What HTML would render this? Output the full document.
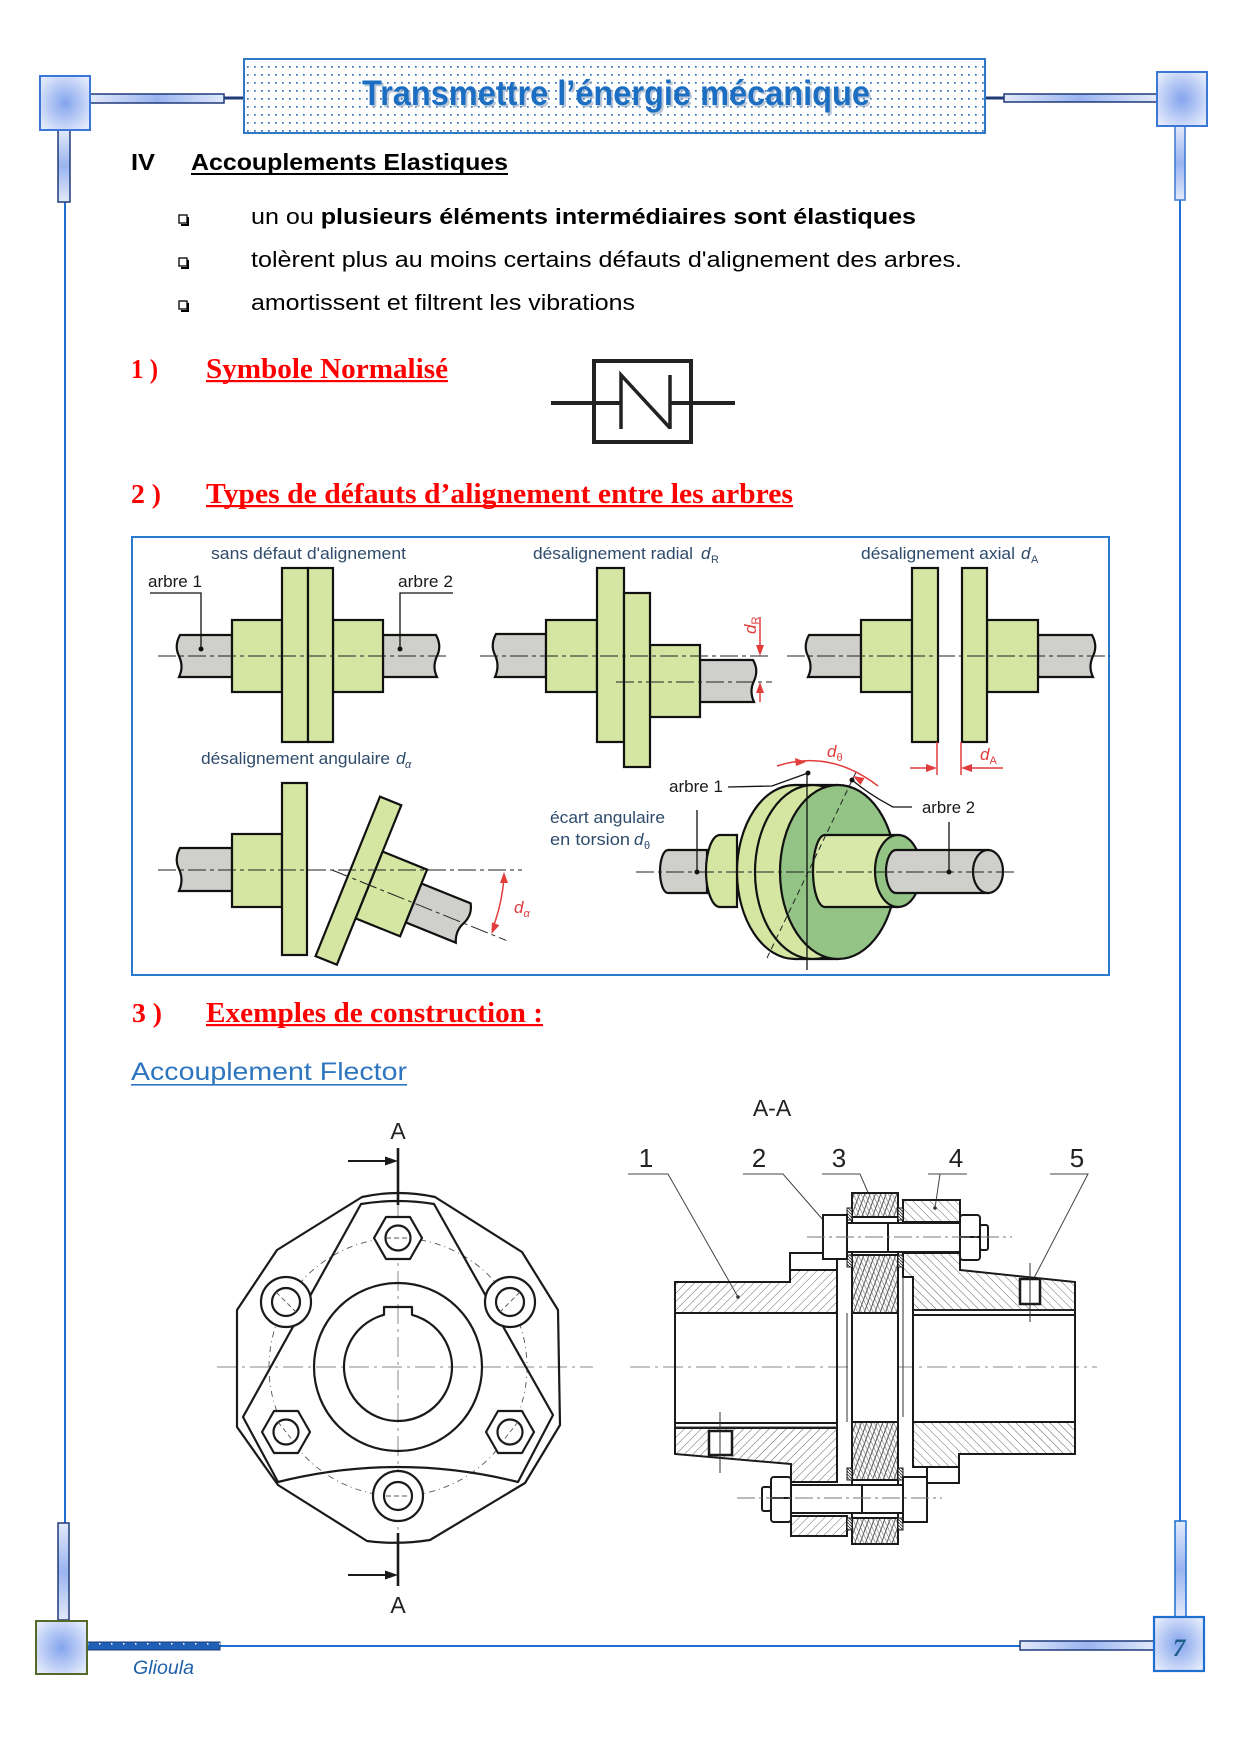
<!DOCTYPE html>
<html><head><meta charset="utf-8"><style>
html,body{margin:0;padding:0;background:#fff;}
svg{display:block;}
</style></head><body>
<svg width="1240" height="1754" viewBox="0 0 1240 1754" xmlns="http://www.w3.org/2000/svg" font-family="'Liberation Sans', sans-serif">
<defs>
<radialGradient id="cg" cx="50%" cy="50%" r="62%"><stop offset="0" stop-color="#84a4ee"/><stop offset="1" stop-color="#e3eafb"/></radialGradient>
<linearGradient id="hb" x1="0" x2="1" y1="0" y2="0"><stop offset="0" stop-color="#e2e9fa"/><stop offset="0.5" stop-color="#9ab4f0"/><stop offset="1" stop-color="#e2e9fa"/></linearGradient>
<linearGradient id="vb" x1="0" x2="0" y1="0" y2="1"><stop offset="0" stop-color="#e2e9fa"/><stop offset="0.5" stop-color="#9ab4f0"/><stop offset="1" stop-color="#e2e9fa"/></linearGradient>
<pattern id="dots" width="7" height="8" patternUnits="userSpaceOnUse"><rect x="2" y="2" width="1.7" height="1.7" fill="#2f6db5"/></pattern>
<pattern id="wdots" width="12" height="8" patternUnits="userSpaceOnUse"><rect x="3" y="3" width="1.5" height="1.5" fill="#fff"/></pattern>
<pattern id="h1" width="6" height="6" patternUnits="userSpaceOnUse" patternTransform="rotate(45)"><line x1="0" y1="0" x2="0" y2="6" stroke="#555" stroke-width="0.9"/></pattern>
<pattern id="h2" width="6" height="6" patternUnits="userSpaceOnUse" patternTransform="rotate(-45)"><line x1="0" y1="0" x2="0" y2="6" stroke="#555" stroke-width="0.9"/></pattern>
<pattern id="hx" width="5" height="5" patternUnits="userSpaceOnUse" patternTransform="rotate(20)"><line x1="1" y1="0" x2="1" y2="5" stroke="#444" stroke-width="0.9"/><line x1="0" y1="0" x2="5" y2="5" stroke="#666" stroke-width="0.6"/></pattern>
<pattern id="hs" width="3" height="3" patternUnits="userSpaceOnUse"><rect width="3" height="3" fill="#fff"/><line x1="0" y1="0" x2="3" y2="3" stroke="#333" stroke-width="0.9"/></pattern>
</defs>

<!-- ============ PAGE FRAME ============ -->
<g stroke="#1f6fd0" stroke-width="2" fill="none">
<line x1="65" y1="202" x2="65" y2="1523"/>
<line x1="1180" y1="200" x2="1180" y2="1521"/>
<line x1="220" y1="1646" x2="1020" y2="1646"/>
</g>
<line x1="224" y1="98" x2="245" y2="98" stroke="#1f3a7a" stroke-width="3"/>
<line x1="985" y1="98" x2="1004" y2="98" stroke="#1f3a7a" stroke-width="3"/>
<!-- top-left -->
<rect x="90" y="94" width="134" height="9" fill="url(#hb)" stroke="#1f3a7a" stroke-width="1.5"/>
<rect x="58" y="130" width="12" height="72" fill="url(#vb)" stroke="#1f3a7a" stroke-width="1.5"/>
<rect x="40" y="76" width="50" height="54" fill="url(#cg)" stroke="#3b77d6" stroke-width="2"/>
<!-- top-right -->
<rect x="1004" y="94" width="153" height="8" fill="url(#hb)" stroke="#1f3a7a" stroke-width="1.5"/>
<rect x="1175" y="126" width="10" height="74" fill="url(#vb)" stroke="#3b77d6" stroke-width="1.5"/>
<rect x="1157" y="72" width="50" height="54" fill="url(#cg)" stroke="#3b77d6" stroke-width="2"/>
<!-- bottom-left -->
<rect x="58" y="1523" width="11" height="97" fill="url(#vb)" stroke="#1f3a7a" stroke-width="1.5"/>
<rect x="87" y="1642" width="133" height="8" fill="#1f5fb5" stroke="#1f3a7a" stroke-width="1"/>
<rect x="87" y="1642" width="133" height="8" fill="url(#wdots)"/>
<rect x="36" y="1621" width="51" height="53" fill="url(#cg)" stroke="#56692b" stroke-width="2"/>
<text x="133" y="1674" font-size="19" font-style="italic" fill="#2060a8" textLength="61" lengthAdjust="spacingAndGlyphs">Glioula</text>
<!-- bottom-right -->
<rect x="1175" y="1521" width="11" height="96" fill="url(#vb)" stroke="#1f6fd0" stroke-width="1.5"/>
<rect x="1020" y="1641" width="134" height="9" fill="url(#hb)" stroke="#1f3a7a" stroke-width="1.5"/>
<rect x="1154" y="1617" width="50" height="54" fill="url(#cg)" stroke="#1f6fd0" stroke-width="2.2"/>
<text x="1179" y="1656" font-size="25" font-weight="bold" font-style="italic" font-family="'Liberation Serif', serif" fill="#1f5f8a" text-anchor="middle">7</text>

<!-- ============ TITLE ============ -->
<rect x="244" y="59" width="741" height="74" fill="#fff"/>
<rect x="244" y="59" width="741" height="74" fill="url(#dots)" stroke="#2f78c5" stroke-width="2"/>
<text x="364" y="107" font-size="35" font-weight="bold" fill="#9fb0c5" opacity="0.7" textLength="508" lengthAdjust="spacingAndGlyphs">Transmettre l’énergie mécanique</text>
<text x="362" y="105" font-size="35" font-weight="bold" fill="#1b6ec2" textLength="508" lengthAdjust="spacingAndGlyphs">Transmettre l’énergie mécanique</text>

<!-- ============ SECTION IV ============ -->
<text x="131" y="170" font-size="23" font-weight="bold" fill="#000" textLength="24" lengthAdjust="spacingAndGlyphs">IV</text>
<text x="191" y="170" font-size="23" font-weight="bold" fill="#000" textLength="317" lengthAdjust="spacingAndGlyphs">Accouplements Elastiques</text>
<rect x="191" y="173" width="317" height="2" fill="#000"/>

<g fill="none" stroke="#000">
<rect x="179" y="215" width="8" height="8" stroke-width="1.3"/><path d="M188,217 V225 H181" stroke-width="2"/>
<rect x="179" y="258" width="8" height="8" stroke-width="1.3"/><path d="M188,260 V268 H181" stroke-width="2"/>
<rect x="179" y="301" width="8" height="8" stroke-width="1.3"/><path d="M188,303 V311 H181" stroke-width="2"/>
</g>
<text x="251" y="224" font-size="22" fill="#000" textLength="665" lengthAdjust="spacingAndGlyphs">un ou <tspan font-weight="bold">plusieurs éléments intermédiaires sont élastiques</tspan></text>
<text x="251" y="267" font-size="22" fill="#000" textLength="711" lengthAdjust="spacingAndGlyphs">tolèrent plus au moins certains défauts d'alignement des arbres.</text>
<text x="251" y="310" font-size="22" fill="#000" textLength="384" lengthAdjust="spacingAndGlyphs">amortissent et filtrent les vibrations</text>

<!-- ============ 1) ============ -->
<g font-family="'Liberation Serif', serif" font-weight="bold" fill="#ff0000">
<text x="131" y="378" font-size="27" textLength="27" lengthAdjust="spacingAndGlyphs">1 )</text>
<text x="206" y="378" font-size="28" textLength="242" lengthAdjust="spacingAndGlyphs">Symbole Normalisé</text>
<rect x="206" y="380" width="242" height="2.2"/>
<text x="131" y="503" font-size="27" textLength="30" lengthAdjust="spacingAndGlyphs">2 )</text>
<text x="206" y="503" font-size="28" textLength="587" lengthAdjust="spacingAndGlyphs">Types de défauts d’alignement entre les arbres</text>
<rect x="206" y="505" width="587" height="2.2"/>
<text x="132" y="1022" font-size="27" textLength="30" lengthAdjust="spacingAndGlyphs">3 )</text>
<text x="206" y="1022" font-size="28" textLength="337" lengthAdjust="spacingAndGlyphs">Exemples de construction :</text>
<rect x="206" y="1024" width="337" height="2.2"/>
</g>

<!-- symbol -->
<g stroke="#222" fill="none">
<rect x="594" y="361" width="97" height="81" stroke-width="4"/>
<path d="M551,403 H621 M670,403 H735" stroke-width="4"/>
<path d="M621,429 V375 L670,428 M670,375 V429" stroke-width="3.5"/>
</g>

<!-- ============ FIGURE BOX ============ -->
<rect x="132" y="537" width="977" height="438" fill="#fff" stroke="#2a7bd0" stroke-width="2"/>

<g stroke="#111" stroke-width="2.2" stroke-linejoin="miter">
<!-- fig1 -->
<path d="M232,635 H180 Q174,646 179,656 Q184,667 179,677 H232 Z" fill="#cfcfcc"/>
<path d="M383,635 H436 Q442,646 437,656 Q432,667 437,677 H383 Z" fill="#cfcfcc"/>
<rect x="232" y="620" width="50" height="72" fill="#d4e6a1"/>
<rect x="333" y="620" width="50" height="72" fill="#d4e6a1"/>
<rect x="282" y="568" width="26" height="174" fill="#d4e6a1"/>
<rect x="308" y="568" width="25" height="174" fill="#d4e6a1"/>
<!-- fig2 -->
<path d="M546,634 H496 Q490,645 495,655 Q500,666 495,677 H546 Z" fill="#cfcfcc"/>
<path d="M700,660 H753 Q759,670 754,681 Q749,691 754,702 H700 Z" fill="#cfcfcc"/>
<rect x="546" y="620" width="51" height="72" fill="#d4e6a1"/>
<rect x="650" y="645" width="50" height="72" fill="#d4e6a1"/>
<rect x="597" y="568" width="27" height="174" fill="#d4e6a1"/>
<rect x="624" y="593" width="26" height="174" fill="#d4e6a1"/>
<!-- fig4 -->
<path d="M861,635 H809 Q803,646 808,656 Q813,667 808,677 H861 Z" fill="#cfcfcc"/>
<path d="M1038,635 H1092 Q1098,646 1093,656 Q1088,667 1093,677 H1038 Z" fill="#cfcfcc"/>
<rect x="861" y="620" width="51" height="72" fill="#d4e6a1"/>
<rect x="987" y="620" width="51" height="72" fill="#d4e6a1"/>
<rect x="912" y="568" width="26" height="174" fill="#d4e6a1"/>
<rect x="962" y="568" width="25" height="174" fill="#d4e6a1"/>
<!-- fig3 -->
<path d="M232,848 H180 Q174,859 179,869 Q184,880 179,891 H232 Z" fill="#cfcfcc"/>
<rect x="232" y="834" width="50" height="73" fill="#d4e6a1"/>
<rect x="282" y="783" width="25" height="172" fill="#d4e6a1"/>
<g transform="rotate(22 332 870)">
<path d="M420,849 H473 Q479,859 474,870 Q469,880 474,891 H420 Z" fill="#cfcfcc"/>
<rect x="372" y="834" width="48" height="72" fill="#d4e6a1"/>
<rect x="349" y="784" width="23" height="172" fill="#d4e6a1"/>
</g>
<!-- fig5 torsion -->
<path d="M707,850 H668 A8,21.5 0 0 0 668,893 H707 Z" fill="#cfcfcc"/>
<path d="M737,835 H720 A14,36 0 0 0 720,907 H737 Z" fill="#d4e6a1"/>
<rect x="795" y="785" width="43" height="174" fill="#d4e6a1" stroke="none"/>
<ellipse cx="795" cy="872" rx="58" ry="87" fill="#d4e6a1"/>
<rect x="795" y="786" width="43" height="172" fill="#d4e6a1" stroke="none"/>
<line x1="795" y1="785" x2="838" y2="785"/>
<line x1="795" y1="959" x2="838" y2="959"/>
<ellipse cx="813" cy="872" rx="58" ry="87" fill="#d4e6a1"/>
<ellipse cx="838" cy="872" rx="58" ry="87" fill="#93c385"/>
<path d="M897,835 H825 A12,36 0 0 0 825,907 H897 Z" fill="#d8e8a8"/>
<ellipse cx="898" cy="871" rx="23" ry="36" fill="#93c385"/>
<path d="M896,850 H988 V893 H896 A10,21.5 0 0 1 896,850 Z" fill="#cfcfcc"/>
<ellipse cx="988" cy="871.5" rx="15" ry="21.5" fill="#cfcfcc"/>
</g>

<!-- centerlines illustrations -->
<g stroke="#222" stroke-width="1" stroke-dasharray="18,4,4,4" fill="none">
<line x1="158" y1="656" x2="450" y2="656"/>
<line x1="480" y1="656" x2="772" y2="656"/>
<line x1="616" y1="682" x2="772" y2="682"/>
<line x1="787" y1="656" x2="1110" y2="656"/>
<line x1="158" y1="870" x2="522" y2="870"/>
<line x1="332" y1="870" x2="520" y2="870" transform="rotate(22 332 870)"/>
<line x1="636" y1="872" x2="1018" y2="872"/>
<line x1="767" y1="958" x2="857" y2="770" stroke-dasharray="6,4"/>
</g>
<g stroke="#111" stroke-width="1.3" fill="none">
<path d="M150,593 H201 V649"/>
<path d="M453,593 H400 V649"/>
<line x1="807" y1="772" x2="807" y2="970"/>
<path d="M728,787 L772,786 L808,773"/>
<path d="M912,807 L893,807 Q870,795 852,780"/>
<line x1="697" y1="810" x2="697" y2="872"/>
<line x1="949" y1="822" x2="949" y2="872"/>
</g>
<g fill="#111">
<circle cx="201" cy="649" r="2.5"/><circle cx="400" cy="649" r="2.5"/>
<circle cx="808" cy="773" r="2.5"/><circle cx="852" cy="780" r="2.5"/>
<circle cx="697" cy="872" r="2.5"/><circle cx="949" cy="872" r="2.5"/>
</g>
<!-- red dimensions -->
<g stroke="#e23c3c" stroke-width="1.5" fill="none">
<line x1="760" y1="617" x2="760" y2="650"/>
<line x1="760" y1="702" x2="760" y2="688"/>
<line x1="937" y1="742" x2="937" y2="775"/>
<line x1="961" y1="742" x2="961" y2="775"/>
<line x1="910" y1="768" x2="932" y2="768"/>
<line x1="1003" y1="768" x2="966" y2="768"/>
<path d="M777,766 Q830,749 878,786"/>
<path d="M504,876 A172,172 0 0 1 492,930"/>
</g>
<g fill="#e23c3c">
<polygon points="760,656 756,645 764,645"/>
<polygon points="760,682 756,693 764,693"/>
<polygon points="937,768 926,764 926,772"/>
<polygon points="961,768 972,764 972,772"/>
<polygon points="806,762 795,758 796,766"/>
<polygon points="853,776 864.5,778 860.5,785"/>
<polygon points="504,872 500,883 508,883"/>
<polygon points="491.5,934 499.3,925.3 491.9,922.3"/>
</g>
<g fill="#e23c3c" font-style="italic">
<text font-size="17" transform="translate(756,634) rotate(-90)">d<tspan font-size="11" font-style="normal" dy="3">R</tspan></text>
<text x="980" y="760" font-size="17">d<tspan font-size="11" font-style="normal" dy="4">A</tspan></text>
<text x="827" y="757" font-size="17">d<tspan font-size="11" font-style="normal" dy="4">θ</tspan></text>
<text x="514" y="913" font-size="17">d<tspan font-size="11" dy="4">α</tspan></text>
</g>
<!-- illustration labels -->
<g font-size="17" fill="#2e4b6b">
<text x="211" y="559" textLength="195" lengthAdjust="spacingAndGlyphs">sans défaut d'alignement</text>
<text x="533" y="559" textLength="160" lengthAdjust="spacingAndGlyphs">désalignement radial</text>
<text x="701" y="559" font-style="italic">d</text><text x="711" y="563" font-size="11">R</text>
<text x="861" y="559" textLength="154" lengthAdjust="spacingAndGlyphs">désalignement axial</text>
<text x="1021" y="559" font-style="italic">d</text><text x="1031" y="563" font-size="11">A</text>
<text x="201" y="764" textLength="189" lengthAdjust="spacingAndGlyphs">désalignement angulaire</text>
<text x="396" y="764" font-style="italic">d</text><text x="405" y="768" font-size="11" font-style="italic">α</text>
<text x="550" y="823" textLength="115" lengthAdjust="spacingAndGlyphs">écart angulaire</text>
<text x="550" y="845" textLength="80" lengthAdjust="spacingAndGlyphs">en torsion</text>
<text x="634" y="845" font-style="italic">d</text><text x="644" y="849" font-size="11">θ</text>
</g>
<g font-size="17" fill="#1a1a1a">
<text x="148" y="587" textLength="54" lengthAdjust="spacingAndGlyphs">arbre 1</text>
<text x="398" y="587" textLength="55" lengthAdjust="spacingAndGlyphs">arbre 2</text>
<text x="669" y="792" textLength="54" lengthAdjust="spacingAndGlyphs">arbre 1</text>
<text x="922" y="813" textLength="53" lengthAdjust="spacingAndGlyphs">arbre 2</text>
</g>

<!-- ============ Accouplement Flector ============ -->
<text x="131" y="1080" font-size="25" fill="#2e75c0" textLength="276" lengthAdjust="spacingAndGlyphs">Accouplement Flector</text>
<rect x="131" y="1084" width="276" height="1.6" fill="#2e75c0"/>

<!-- ============ FRONT VIEW ============ -->
<g stroke="#888" stroke-width="1" fill="none" stroke-dasharray="20,5,3,5">
<line x1="217" y1="1367" x2="593" y2="1367"/>
<line x1="398" y1="1205" x2="398" y2="1533"/>
<line x1="630" y1="1367" x2="1097" y2="1367"/>
</g>
<circle cx="398" cy="1367" r="129" fill="none" stroke="#555" stroke-width="0.9" stroke-dasharray="6,4,1,4"/>
<g stroke="#1a1a1a" stroke-width="2.2" fill="none" stroke-linejoin="round">
<path d="M362,1197 Q398,1189 435,1197 L522,1252 L558,1310 L560,1425 L525,1483 L430,1540 Q398,1545 367,1541 L278,1485 L237,1427 L237,1310 L277,1250 Z"/>
<path d="M361,1204 Q398,1198 434,1204 L553,1415 L518,1482 Q398,1452 278,1482 L243,1417 Z"/>
<circle cx="398" cy="1367" r="84"/>
<path d="M384,1314.8 A54,54 0 1 0 412,1314.8 L412,1307 L384,1307 Z"/>
<!-- hex nuts -->
<polygon points="374,1238 386,1217 410,1217 422,1238 410,1259 386,1259" fill="#fff"/>
<circle cx="398" cy="1238" r="12.5"/>
<polygon points="262,1432 274,1411 298,1411 310,1432 298,1453 274,1453" fill="#fff"/>
<circle cx="286" cy="1432" r="12.5"/>
<polygon points="486,1432 498,1411 522,1411 534,1432 522,1453 498,1453" fill="#fff"/>
<circle cx="510" cy="1432" r="12.5"/>
<!-- washers -->
<circle cx="286" cy="1302" r="25" fill="#fff"/><circle cx="286" cy="1302" r="14"/>
<circle cx="510" cy="1302" r="25" fill="#fff"/><circle cx="510" cy="1302" r="14"/>
<circle cx="398" cy="1496" r="25" fill="#fff"/><circle cx="398" cy="1496" r="14"/>
</g>
<g stroke="#555" stroke-width="0.9" fill="none" stroke-dasharray="5,3">
<line x1="386" y1="1238" x2="410" y2="1238"/>
<line x1="386" y1="1496" x2="410" y2="1496"/>
<line x1="276" y1="1292" x2="296" y2="1312"/>
<line x1="520" y1="1292" x2="500" y2="1312"/>
<line x1="278" y1="1422" x2="294" y2="1442"/>
<line x1="518" y1="1422" x2="502" y2="1442"/>
</g>
<g stroke="#1a1a1a" stroke-width="2.6">
<line x1="398" y1="1148" x2="398" y2="1205"/>
<line x1="398" y1="1533" x2="398" y2="1586"/>
<line x1="348" y1="1161" x2="388" y2="1161" stroke-width="2"/>
<line x1="348" y1="1575" x2="388" y2="1575" stroke-width="2"/>
</g>
<polygon points="398,1161 385,1156.5 385,1165.5" fill="#1a1a1a"/>
<polygon points="398,1575 385,1570.5 385,1579.5" fill="#1a1a1a"/>
<g font-size="23" fill="#222" text-anchor="middle">
<text x="398" y="1139">A</text>
<text x="398" y="1613">A</text>
<text x="772" y="1116">A-A</text>
</g>

<!-- ============ SECTION VIEW ============ -->
<g font-size="26" fill="#222" text-anchor="middle">
<text x="646" y="1167">1</text><text x="759" y="1167">2</text><text x="839" y="1167">3</text><text x="956" y="1167">4</text><text x="1077" y="1167">5</text>
</g>
<g stroke="#444" stroke-width="1" fill="none">
<path d="M628,1174 H668 L738,1297"/>
<path d="M743,1174 H783 L830,1228"/>
<path d="M822,1174 H860 L874,1206"/>
<path d="M928,1174 H967 M940,1174 L935,1208"/>
<path d="M1050,1174 H1088 L1033,1280"/>
</g>
<g fill="#333"><circle cx="738" cy="1297" r="1.8"/><circle cx="830" cy="1228" r="1.8"/><circle cx="874" cy="1206" r="1.8"/><circle cx="935" cy="1208" r="1.8"/></g>

<g stroke="#1a1a1a" stroke-width="2" stroke-linejoin="miter">
<!-- hubs upper -->
<path d="M675,1282 H790 V1270 H837 V1313 H675 Z" fill="url(#h1)"/>
<path d="M790,1270 V1253 H823" fill="none"/>
<path d="M903,1253 H960 V1270 L1075,1282 V1310 H913 V1277 H903 Z" fill="url(#h2)"/>
<!-- hubs lower -->
<path d="M675,1428 H837 V1482 H791 V1464 L675,1454 Z" fill="url(#h1)"/>
<path d="M913,1422 H1075 V1454 H959 V1467 H913 Z" fill="url(#h2)"/>
<rect x="927" y="1467" width="32" height="16" fill="#fff"/>
<!-- tubes -->
<line x1="675" y1="1282" x2="675" y2="1454"/>
<line x1="1075" y1="1282" x2="1075" y2="1454"/>
<line x1="675" y1="1423" x2="837" y2="1423"/>
<line x1="913" y1="1315" x2="1075" y2="1315"/>
<line x1="837" y1="1259" x2="837" y2="1482"/>
<line x1="913" y1="1310" x2="913" y2="1422"/>
<!-- disc -->
<rect x="852" y="1193" width="46" height="351" fill="#fff"/>
<rect x="852" y="1193" width="46" height="24" fill="url(#hx)"/>
<rect x="852" y="1255" width="46" height="58" fill="url(#hx)"/>
<rect x="852" y="1422" width="46" height="58" fill="url(#hx)"/>
<rect x="852" y="1518" width="46" height="26" fill="url(#hx)"/>
<!-- bushings -->
<rect x="903" y="1200" width="57" height="22" fill="url(#h2)"/>
<rect x="791" y="1516" width="56" height="20" fill="url(#h1)"/>
<!-- spacers -->
<g stroke-width="1">
<rect x="847" y="1208" width="5" height="12" fill="url(#hs)"/><rect x="847" y="1255" width="5" height="12" fill="url(#hs)"/>
<rect x="898" y="1208" width="5" height="12" fill="url(#hs)"/><rect x="898" y="1255" width="5" height="12" fill="url(#hs)"/>
<rect x="847" y="1468" width="5" height="12" fill="url(#hs)"/><rect x="847" y="1518" width="5" height="12" fill="url(#hs)"/>
<rect x="898" y="1468" width="5" height="12" fill="url(#hs)"/><rect x="898" y="1518" width="5" height="12" fill="url(#hs)"/>
</g>
<!-- bolt upper -->
<rect x="847" y="1223" width="113" height="29" fill="#fff"/>
<line x1="888" y1="1223" x2="888" y2="1252"/>
<rect x="823" y="1215" width="24" height="44" fill="#fff"/>
<rect x="960" y="1215" width="20" height="45" rx="3" fill="#fff"/>
<line x1="960" y1="1237" x2="980" y2="1237"/>
<rect x="980" y="1225" width="8" height="25" rx="2" fill="#fff"/>
<!-- bolt lower -->
<rect x="791" y="1485" width="112" height="28" fill="#fff"/>
<line x1="862" y1="1485" x2="862" y2="1513"/>
<rect x="903" y="1477" width="24" height="45" fill="#fff"/>
<rect x="771" y="1477" width="20" height="45" rx="3" fill="#fff"/>
<line x1="771" y1="1498" x2="791" y2="1498"/>
<rect x="762" y="1487" width="9" height="24" rx="2" fill="#fff"/>
<!-- set screws -->
<rect x="1020" y="1279" width="20" height="25" fill="#fff" stroke-width="2.5"/>
<rect x="709" y="1431" width="23" height="24" fill="#fff" stroke-width="2.5"/>
</g>
<g stroke="#333" stroke-width="1" fill="none">
<line x1="847" y1="1313" x2="847" y2="1422"/>
<line x1="903" y1="1277" x2="903" y2="1417"/>
<line x1="1030" y1="1263" x2="1030" y2="1322"/>
<line x1="720" y1="1412" x2="720" y2="1473"/>
<line x1="675" y1="1427" x2="837" y2="1427"/>
<line x1="913" y1="1310" x2="1075" y2="1310"/>
</g>
<g stroke="#777" stroke-width="0.9" stroke-dasharray="18,4,3,4">
<line x1="807" y1="1237" x2="1012" y2="1237"/>
<line x1="737" y1="1498" x2="942" y2="1498"/>
</g>
</svg>
</body></html>
